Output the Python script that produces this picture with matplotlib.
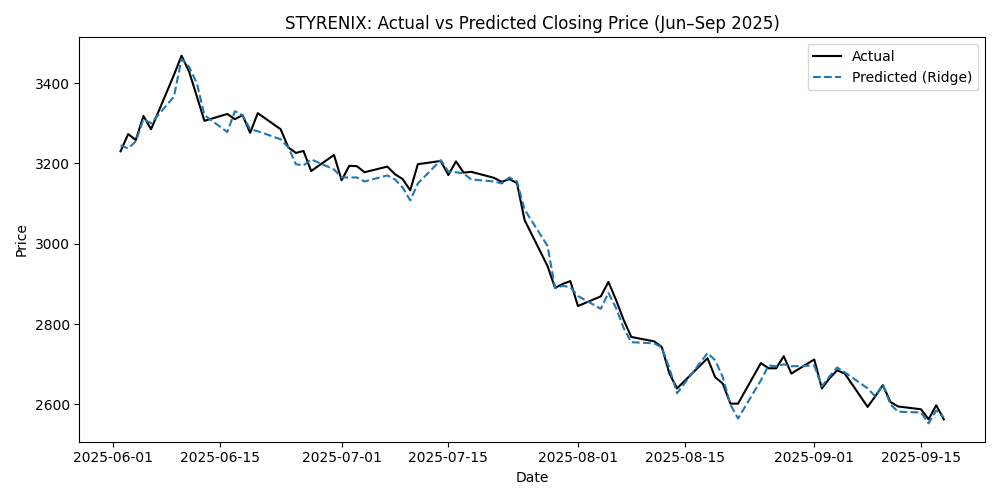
import matplotlib
matplotlib.use("Agg")
import matplotlib.pyplot as plt
import pandas as pd

dates = ["2025-06-02", "2025-06-03", "2025-06-04", "2025-06-05", "2025-06-06",
         "2025-06-09", "2025-06-10", "2025-06-11", "2025-06-12", "2025-06-13",
         "2025-06-16", "2025-06-17", "2025-06-18", "2025-06-19", "2025-06-20",
         "2025-06-23", "2025-06-24", "2025-06-25", "2025-06-26", "2025-06-27",
         "2025-06-30", "2025-07-01", "2025-07-02", "2025-07-03", "2025-07-04",
         "2025-07-07", "2025-07-08", "2025-07-09", "2025-07-10", "2025-07-11",
         "2025-07-14", "2025-07-15", "2025-07-16", "2025-07-17", "2025-07-18",
         "2025-07-21", "2025-07-22", "2025-07-23", "2025-07-24", "2025-07-25",
         "2025-07-28", "2025-07-29", "2025-07-30", "2025-07-31", "2025-08-01",
         "2025-08-04", "2025-08-05", "2025-08-06", "2025-08-07", "2025-08-08",
         "2025-08-11", "2025-08-12", "2025-08-13", "2025-08-14",
         "2025-08-18", "2025-08-19", "2025-08-20", "2025-08-21", "2025-08-22",
         "2025-08-25", "2025-08-26", "2025-08-27", "2025-08-28", "2025-08-29",
         "2025-09-01", "2025-09-02", "2025-09-03", "2025-09-04", "2025-09-05",
         "2025-09-08", "2025-09-09", "2025-09-10", "2025-09-11", "2025-09-12",
         "2025-09-15", "2025-09-16", "2025-09-17", "2025-09-18"]

actual = [3230, 3273, 3258, 3318, 3285,
          3420, 3468, 3428, 3367, 3306,
          3323, 3310, 3320, 3276, 3325,
          3285, 3240, 3226, 3231, 3181,
          3221, 3158, 3194, 3193, 3178,
          3192, 3173, 3161, 3133, 3198,
          3206, 3171, 3205, 3177, 3179,
          3164, 3154, 3161, 3151, 3059,
          2945, 2890, 2900, 2907, 2845,
          2869, 2905, 2860, 2810, 2768,
          2757, 2743, 2677, 2640,
          2715, 2668, 2652, 2602, 2602,
          2703, 2690, 2690, 2720, 2677,
          2712, 2640, 2665, 2685, 2677,
          2594, 2620, 2648, 2606, 2595,
          2588, 2563, 2598, 2563]

predicted = [3245, 3237, 3255, 3310, 3300,
             3366, 3460, 3440, 3400, 3320,
             3278, 3330, 3320, 3285, 3280,
             3260, 3240, 3198, 3195, 3210,
             3185, 3165, 3165, 3165, 3155,
             3170, 3160, 3140, 3108, 3150,
             3208, 3180, 3178, 3175, 3160,
             3155, 3150, 3165, 3155, 3085,
             2995, 2890, 2895, 2892, 2870,
             2838, 2878, 2840, 2790, 2755,
             2752, 2742, 2690, 2628,
             2728, 2710, 2668, 2600, 2565,
             2660, 2697, 2695, 2700, 2695,
             2697, 2645, 2670, 2692, 2680,
             2640, 2620, 2650, 2600, 2582,
             2580, 2553, 2585, 2568]

x = pd.to_datetime(dates)

plt.figure(figsize=(10, 5))
plt.plot(x, actual, color="black", label="Actual")
plt.plot(x, predicted, linestyle="--", color="tab:blue", label="Predicted (Ridge)")
plt.title("STYRENIX: Actual vs Predicted Closing Price (Jun\u2013Sep 2025)")
plt.xlabel("Date")
plt.ylabel("Price")
plt.legend()
plt.tight_layout()
plt.savefig("out.png", dpi=100)
